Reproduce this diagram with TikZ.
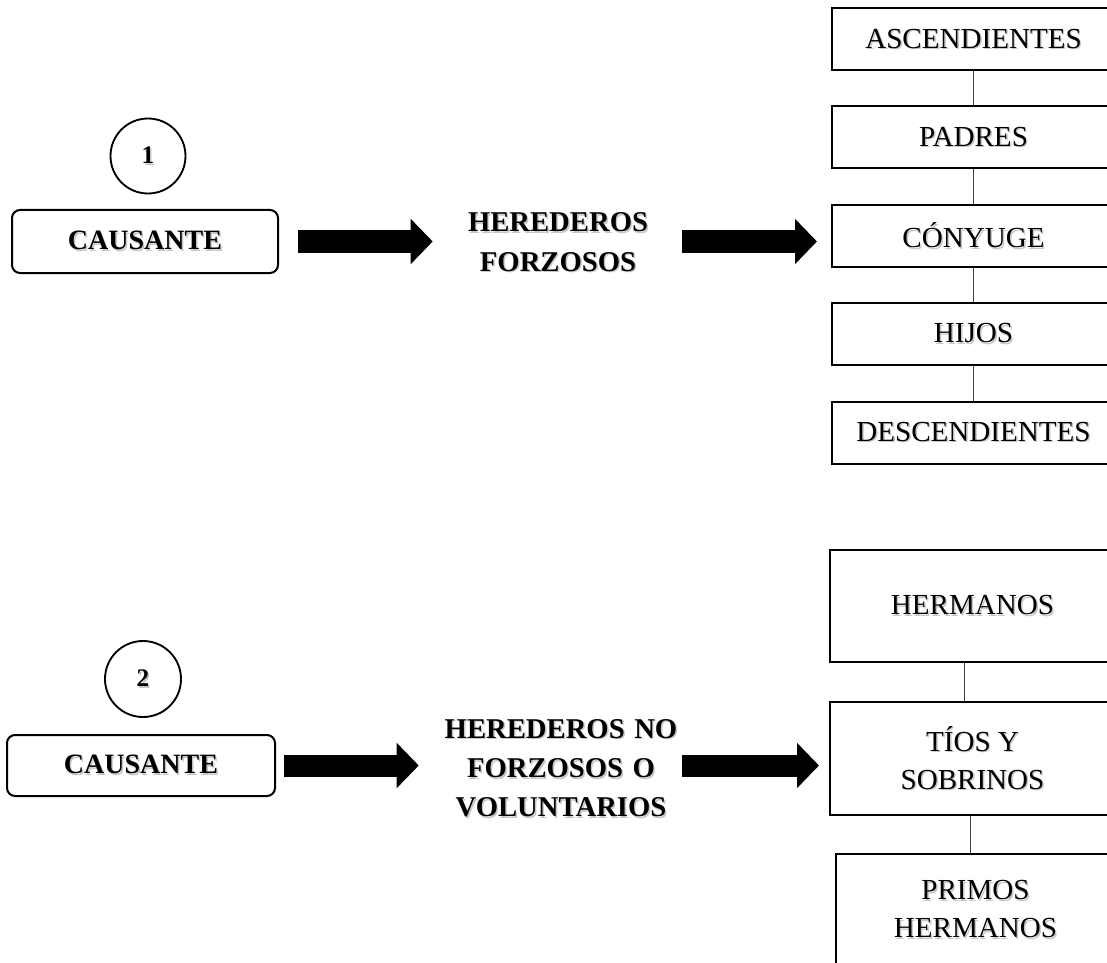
\documentclass[tikz,border=0pt]{standalone}
\usepackage{fontspec}
\setmainfont{Liberation Serif}
\usetikzlibrary{arrows.meta}
\newcommand\sh[1]{\leavevmode\rlap{\kern1.1pt\raisebox{-1.1pt}{\textcolor{black!22}{#1}}}#1}
\begin{document}
\begin{tikzpicture}[x=0.75pt,y=-0.75pt,
  causbox/.style={draw, line width=1.5pt, rounded corners=6pt, inner sep=0pt,
    font=\bfseries\fontsize{21}{29.5}\selectfont},
  numcirc/.style={circle, draw, line width=1.4pt, inner sep=0pt,
    font=\bfseries\fontsize{19}{22}\selectfont},
  heirtext/.style={align=center, inner sep=0pt,
    font=\bfseries\fontsize{21.5}{29.5}\selectfont},
  kinbox/.style={draw, line width=1.5pt, inner sep=0pt, align=center,
    font=\fontsize{21.8}{28.5}\selectfont},
  bigarrow/.style={line width=16.5pt, -{Triangle[length=16.5pt, width=33pt]}},
  link/.style={line width=0.8pt, draw=black!75}]
\useasboundingbox (0,0) rectangle (1107,963);
\fill[white] (0,0) rectangle (1107,963);

% ---------- group 1 ----------
\node[numcirc, minimum size=56.25pt] (circ1) at (148,156) {\sh{1}};
\node[causbox, minimum width=199.5pt, minimum height=47.25pt] (caus1) at (145,241.5) {\sh{CAUSANTE}};
\node[heirtext, text width=157.5pt] (her1) at (558,243) {\sh{HEREDEROS}\\\sh{FORZOSOS}};

\node[kinbox, minimum width=212.25pt, minimum height=46.5pt] (asc) at (973.5,39.5) {\sh{ASCENDIENTES}};
\node[kinbox, minimum width=212.25pt, minimum height=46.5pt] (pad) at (973.5,137.5) {\sh{PADRES}};
\node[kinbox, minimum width=212.25pt, minimum height=46.5pt] (cony) at (973.5,236) {\sh{CÓNYUGE}};
\node[kinbox, minimum width=212.25pt, minimum height=46.5pt] (hijos) at (973.5,334) {\sh{HIJOS}};
\node[kinbox, minimum width=212.25pt, minimum height=46.5pt] (desc) at (973.5,432.5) {\sh{DESCENDIENTES}};

\draw[link] (asc) -- (pad);
\draw[link] (pad) -- (cony);
\draw[link] (cony) -- (hijos);
\draw[link] (hijos) -- (desc);

\draw[bigarrow, shorten <=14.25pt, shorten >=15pt] (caus1.east) -- (caus1.east -| her1.west);
\draw[bigarrow, shorten <=14.25pt, shorten >=10.5pt] (caus1.east -| her1.east) -- (caus1.east -| cony.west);

% ---------- group 2 ----------
\node[numcirc, minimum size=57pt] (circ2) at (143,679) {\sh{2}};
\node[causbox, minimum width=201pt, minimum height=45.75pt] (caus2) at (141,765.5) {\sh{CAUSANTE}};
\node[heirtext, text width=180pt] (her2) at (561,769) {\sh{HEREDEROS NO}\\\sh{FORZOSOS O}\\\sh{VOLUNTARIOS}};

\node[kinbox, minimum width=213.75pt, minimum height=84pt] (herm) at (972.5,606) {\sh{HERMANOS}};
\node[kinbox, minimum width=213.75pt, minimum height=84.75pt] (tios) at (972.5,758.5) {\sh{TÍOS Y}\\\sh{SOBRINOS}};
\node[kinbox, minimum width=209.25pt, minimum height=84pt] (primos) at (975.5,910) {\sh{PRIMOS}\\\sh{HERMANOS}};

\draw[link] ([xshift=-6pt]herm.south) -- ([xshift=-6pt]herm.south |- tios.north);
\draw[link] ([xshift=-1.5pt]tios.south) -- ([xshift=-1.5pt]tios.south |- primos.north);

\draw[bigarrow, shorten <=6pt, shorten >=16.5pt] (caus2.east) -- (caus2.east -| her2.west);
\draw[bigarrow, shorten <=0.75pt, shorten >=7.5pt] (caus2.east -| her2.east) -- (caus2.east -| tios.west);
\end{tikzpicture}
\end{document}
